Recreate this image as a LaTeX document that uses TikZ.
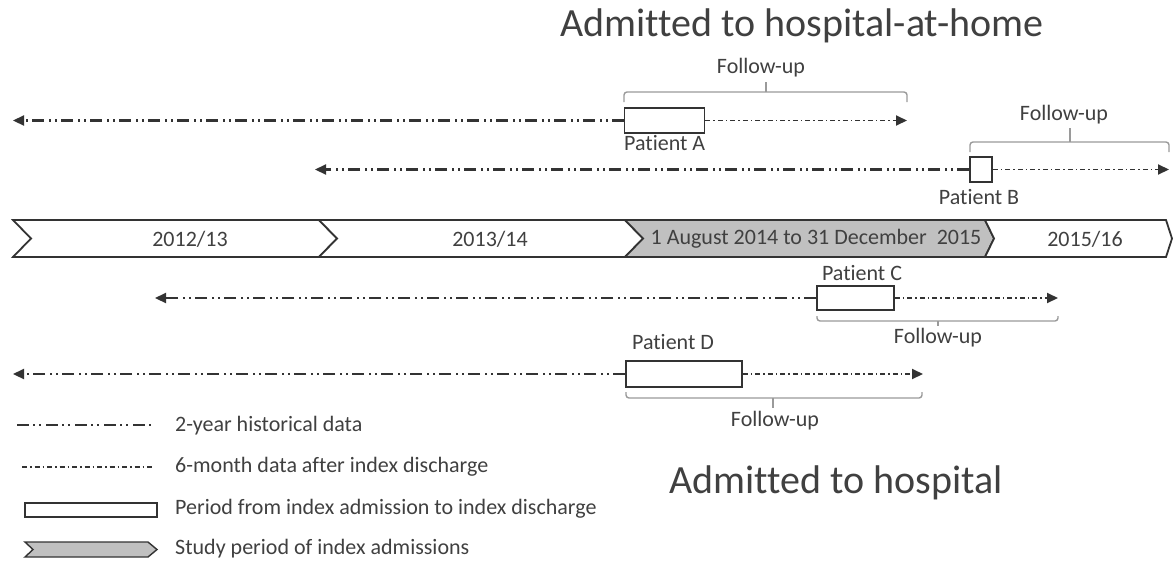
\documentclass[tikz,border=0pt]{standalone}
\usepackage{fontspec}
\setmainfont{Carlito}[Ligatures={NoCommon,NoContextual}, RawFeature={-liga;-clig;-calt;-dlig}]
\usetikzlibrary{arrows.meta}
\definecolor{txt}{HTML}{404040}
\definecolor{ln}{HTML}{333333}
\definecolor{br}{HTML}{9A9A9A}
\definecolor{bandfill}{HTML}{C0C0C0}
\tikzset{
  hist/.style={ln, line width=2.2pt, dash pattern=on 12pt off 4pt on 2pt off 4pt on 2pt off 5pt},
  six/.style={ln, line width=1.9pt, dash pattern=on 5pt off 3pt on 1.5pt off 3pt},
  tip/.style={-{Triangle[length=11pt,width=10pt]}},
  pbox/.style={draw=ln, line width=1.8pt, fill=white, inner sep=0pt},
  brace/.style={br, line width=1.4pt, rounded corners=3pt},
  lbl/.style={txt, font=\fontsize{22}{26}\selectfont, inner sep=0pt},
  band/.style={draw=ln, line width=1.8pt, line join=miter},
  ttl/.style={txt, font=\fontsize{40}{48}\selectfont, inner sep=0pt, anchor=base}
}
\begin{document}
\begin{tikzpicture}[x=1pt,y=-1pt]
\useasboundingbox (0,0) rectangle (1174,560);
% titles
\node[ttl] (t1) at (802,36) {Admitted to hospital-at-home};
\node[ttl] (t2) at (836,493) {Admitted to hospital};
% band
\draw[band, fill=white] (13,220) -- (319,220) -- (337,238.5) -- (319,257) -- (13,257) -- (31,238.5) -- cycle;
\draw[band, fill=white] (319,220) -- (625,220) -- (643,238.5) -- (625,257) -- (319,257) -- (337,238.5) -- cycle;
\draw[band, fill=bandfill] (625,220) -- (985,220) -- (994,238.5) -- (985,257) -- (625,257) -- (643,238.5) -- cycle;
\draw[band, fill=white] (985,220) -- (1166,220) -- (1172,238.5) -- (1166,257) -- (985,257) -- (994,238.5) -- cycle;
\node[lbl] (y1) at (190,239) {2012/13};
\node[lbl] (y2) at (490,239) {2013/14};
\node[lbl] (y3) at (816,239) {1 August 2014 to 31 December~ 2015};
\node[lbl] (y4) at (1085,239) {2015/16};
% Patient A
\node[pbox, minimum width=80pt, minimum height=25pt] (bA) at (664.5,120.5) {};
\coordinate (aL) at (13,120.5);
\coordinate (aR) at (907,120.5);
\draw[hist, tip] (bA.west) -- (aL);
\draw[six, tip] (bA.east) -- (aR);
\node[lbl, anchor=west] (pA) at (624,143) {Patient A};
\draw[brace] (624,102) -- (624,92) -- (907,92) -- (907,102);
\draw[brace] (766,92) -- (766,82);
\node[lbl] (fA) at (761,68) {Follow-up};
% Patient B
\node[pbox, minimum width=22pt, minimum height=25pt] (bB) at (981,169.5) {};
\coordinate (bL) at (315,169.5);
\coordinate (bR) at (1169,169.5);
\draw[hist, tip] (bB.west) -- (bL);
\draw[six, tip] (bB.east) -- (bR);
\node[lbl] (pB) at (979,197) {Patient B};
\draw[brace] (970,152) -- (970,142) -- (1169,142) -- (1169,152);
\draw[brace] (1070,142) -- (1070,128);
\node[lbl] (fB) at (1064,115) {Follow-up};
% Patient C
\node[pbox, minimum width=77pt, minimum height=24pt] (bC) at (855.5,298) {};
\coordinate (cL) at (155,298);
\coordinate (cR) at (1058,298);
\draw[hist, tip] (bC.west) -- (cL);
\draw[six, tip] (bC.east) -- (cR);
\node[lbl] (pC) at (862,273) {Patient C};
\draw[brace] (817,316) -- (817,321) -- (1058,321) -- (1058,316);
\draw[brace] (938,321) -- (938,326);
\node[lbl] (fC) at (938,338) {Follow-up};
% Patient D
\node[pbox, minimum width=116pt, minimum height=26pt] (bD) at (684,374) {};
\coordinate (dL) at (13,374);
\coordinate (dR) at (923,374);
\draw[hist, tip] (bD.west) -- (dL);
\draw[six, tip] (bD.east) -- (dR);
\node[lbl] (pD) at (673,342) {Patient D};
\draw[brace] (626,392) -- (626,398) -- (922,398) -- (922,392);
\draw[brace] (773,398) -- (773,408);
\node[lbl] (fD) at (775,421) {Follow-up};
% legend
\coordinate (l1a) at (17,425);
\coordinate (l1b) at (153,425);
\draw[hist] (l1a) -- (l1b);
\node[lbl, anchor=west] (k1) at (175,426) {2-year historical data};
\coordinate (l2a) at (22,467);
\coordinate (l2b) at (153,467);
\draw[six] (l2a) -- (l2b);
\node[lbl, anchor=west] (k2) at (175,467) {6-month data after index discharge};
\node[pbox, minimum width=132pt, minimum height=14pt] (k3b) at (91,510) {};
\node[lbl, anchor=west] (k3) at (175,509) {Period from index admission to index discharge};
\draw[band, line width=1.4pt, fill=bandfill] (25,542) -- (148,542) -- (157,549.5) -- (148,557) -- (25,557) -- (33,549.5) -- cycle;
\node[lbl, anchor=west] (k4) at (175,549) {Study period of index admissions};
\end{tikzpicture}
\end{document}
